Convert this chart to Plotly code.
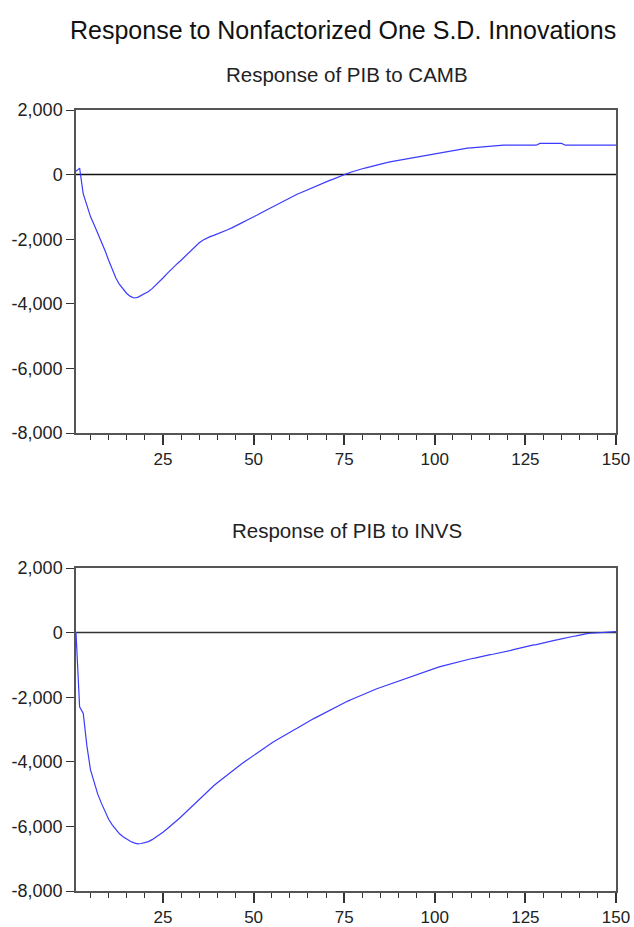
import plotly.graph_objects as go

periods = list(range(1, 151))

pib_to_camb = [
    100, 200, -600, -950, -1300, -1550, -1800, -2050, -2350, -2650,
    -2950, -3200, -3400, -3550, -3680, -3770, -3820, -3800, -3740, -3680,
    -3620, -3530, -3430, -3320, -3200, -3080, -2960, -2850, -2750, -2650,
    -2540, -2430, -2320, -2210, -2110, -2030, -1970, -1920, -1880, -1840,
    -1790, -1750, -1700, -1650, -1600, -1540, -1480, -1420, -1370, -1310,
    -1250, -1190, -1130, -1070, -1010, -960, -900, -840, -780, -720,
    -670, -610, -560, -510, -460, -420, -370, -320, -280, -230,
    -180, -140, -90, -50, 0, 40, 80, 120, 150, 180,
    210, 240, 280, 310, 340, 360, 380, 400, 420, 440,
    465, 490, 510, 530, 550, 570, 590, 610, 630, 650,
    670, 690, 710, 730, 760, 780, 790, 805, 820, 830,
    840, 850, 860, 870, 880, 890, 905, 910, 910, 910,
    910, 910, 910, 910, 910, 910, 910, 910, 965, 965,
    965, 965, 965, 965, 965, 910, 910, 910, 910, 910,
    910, 910, 910, 910, 910, 910, 910, 910, 910, 910,
]

pib_to_invs = [
    0, -2300, -2500, -3500, -4250, -4650, -5000, -5280, -5550, -5780,
    -5950, -6100, -6230, -6320, -6400, -6460, -6510, -6540, -6530, -6500,
    -6470, -6410, -6340, -6260, -6180, -6090, -6000, -5900, -5800, -5700,
    -5590, -5480, -5370, -5260, -5150, -5040, -4940, -4840, -4740, -4650,
    -4560, -4470, -4380, -4290, -4200, -4120, -4040, -3960, -3880, -3800,
    -3720, -3640, -3560, -3490, -3420, -3350, -3280, -3210, -3140, -3080,
    -3020, -2960, -2890, -2830, -2770, -2700, -2640, -2580, -2520, -2470,
    -2410, -2350, -2300, -2240, -2180, -2120, -2070, -2020, -1970, -1920,
    -1870, -1830, -1790, -1740, -1700, -1660, -1620, -1580, -1540, -1500,
    -1450, -1410, -1370, -1330, -1290, -1250, -1220, -1180, -1140, -1100,
    -1070, -1040, -1010, -970, -940, -910, -880, -860, -830, -810,
    -790, -760, -740, -720, -690, -670, -650, -630, -600, -580,
    -550, -520, -490, -470, -440, -420, -390, -370, -340, -320,
    -290, -260, -240, -220, -190, -170, -150, -120, -100, -70,
    -50, -30, -20, -10, 0, 10, 20, 25, 30, 30,
]

x_tick_vals = [25, 50, 75, 100, 125, 150]
x_tick_text = ["25", "50", "75", "100", "125", "150"]
y_tick_vals = [2000, 0, -2000, -4000, -6000, -8000]
y_tick_text = ["2,000", "0", "-2,000", "-4,000", "-6,000", "-8,000"]

main_title = "Response to Nonfactorized One S.D. Innovations"
panel_titles = ["Response of PIB to CAMB", "Response of PIB to INVS"]

W, H = 634, 927
FONT = "Liberation Sans, Arial, sans-serif"
LINE_BLUE = "#3b3bff"


def px_x(sx):
    return sx / W


def px_y(sy):
    return 1 - sy / H


x_dom = [px_x(76), px_x(616)]
y_doms = [[px_y(433), px_y(110)], [px_y(891), px_y(568)]]

fig = go.Figure()
fig.add_trace(go.Scatter(x=periods, y=pib_to_camb, mode="lines",
                         line=dict(color=LINE_BLUE, width=1.2),
                         xaxis="x", yaxis="y", showlegend=False))
fig.add_trace(go.Scatter(x=periods, y=pib_to_invs, mode="lines",
                         line=dict(color=LINE_BLUE, width=1.2),
                         xaxis="x2", yaxis="y2", showlegend=False))


def xaxis(anchor):
    return dict(domain=x_dom, anchor=anchor, range=[1, 150], automargin=False,
                tickvals=x_tick_vals, ticktext=x_tick_text,
                ticks="outside", ticklen=10, tickwidth=1.5, tickcolor="#333",
                minor=dict(dtick=5, tick0=0, ticks="outside", ticklen=5,
                           tickwidth=1.3, tickcolor="#333"),
                showline=True, linecolor="#555", linewidth=1.5, mirror=True,
                showgrid=False, zeroline=False,
                tickfont=dict(family=FONT, size=17, color="#222"))


def yaxis(anchor, dom):
    return dict(domain=dom, anchor=anchor, range=[-8000, 2000], automargin=False,
                tickvals=y_tick_vals, ticktext=y_tick_text,
                ticks="outside", ticklen=8, tickwidth=1.3, tickcolor="#333",
                showline=True, linecolor="#555", linewidth=1.5, mirror=True,
                showgrid=False, zeroline=False,
                tickfont=dict(family=FONT, size=18, color="#222"))


fig.update_layout(
    width=W, height=H, autosize=False,
    margin=dict(l=0, r=0, t=0, b=0, pad=0),
    paper_bgcolor="white", plot_bgcolor="white",
    xaxis=xaxis("y"), yaxis=yaxis("x", y_doms[0]),
    xaxis2=xaxis("y2"), yaxis2=yaxis("x2", y_doms[1]),
    shapes=[
        dict(type="line", xref="x domain", yref="y", x0=0, x1=1, y0=0, y1=0,
             line=dict(color="#111", width=1.5), layer="below"),
        dict(type="line", xref="x2 domain", yref="y2", x0=0, x1=1, y0=0, y1=0,
             line=dict(color="#333", width=1.5), layer="below"),
    ],
    annotations=[
        dict(text=main_title, xref="paper", yref="paper", x=px_x(343), y=px_y(30),
             xanchor="center", yanchor="middle", showarrow=False,
             font=dict(family=FONT, size=25, color="#111")),
        dict(text=panel_titles[0], xref="paper", yref="paper", x=px_x(347), y=px_y(74),
             xanchor="center", yanchor="middle", showarrow=False,
             font=dict(family=FONT, size=20.5, color="#222")),
        dict(text=panel_titles[1], xref="paper", yref="paper", x=px_x(347), y=px_y(530),
             xanchor="center", yanchor="middle", showarrow=False,
             font=dict(family=FONT, size=20.5, color="#222")),
    ],
)

# remove the default page margin so the figure fills the 634x927 window exactly
post = (
    "document.documentElement.style.margin='0';"
    "document.documentElement.style.overflow='hidden';"
    "document.body.style.margin='0';"
    "document.body.style.padding='0';"
    "document.body.style.overflow='hidden';"
)

fig.write_html("out.html", post_script=post, config={"displayModeBar": False})
